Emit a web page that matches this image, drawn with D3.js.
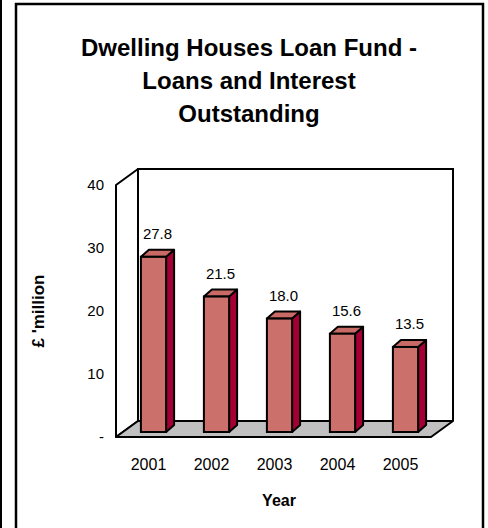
<!DOCTYPE html>
<html><head><meta charset="utf-8">
<script src="https://cdn.jsdelivr.net/npm/d3@7"></script>
<style>body{margin:0;background:#fff}svg{display:block}</style>
</head><body>
<svg id="c" width="488" height="528"></svg>
<script>
const years = ["2001","2002","2003","2004","2005"];
const values = [27.8, 21.5, 18.0, 15.6, 13.5];
const yTicks = [0, 10, 20, 30, 40];
const titleLines = ["Dwelling Houses Loan Fund -", "Loans and Interest", "Outstanding"];

const svg = d3.select("#c");
const font = "'Liberation Sans', Arial, sans-serif";

// outer frame lines
svg.append("line").attr("x1",1).attr("x2",1).attr("y1",0).attr("y2",528).attr("stroke","#000").attr("stroke-width",2);
svg.append("path").attr("d","M16,530 V4 H483 V530").attr("fill","none").attr("stroke","#000").attr("stroke-width",2.5);

// title
svg.append("g").selectAll("text").data(titleLines).join("text")
  .attr("x",249).attr("y",(d,i)=>56+i*33).attr("text-anchor","middle")
  .attr("font-family",font).attr("font-weight","bold").attr("font-size",24).text(d=>d);

const x = d3.scaleBand().domain(years).range([116,431]).paddingInner(0.6).paddingOuter(0.3);
const y = d3.scaleLinear().domain([0,40]).range([437,185]);
const DX = 22, DY = -16;         // full depth
const BX = 6, BY = -5;           // bar front offset
const BDX = 8, BDY = -7;         // bar depth

const x0 = x.range()[0], x1 = x.range()[1];
const yTop = y(40), yBot = y(0);

// back wall
svg.append("path").attr("d",`M${x0+DX},${yBot+DY} V${yTop+DY} H${x1+DX} V${yBot+DY}`)
  .attr("fill","#fff").attr("stroke","#000").attr("stroke-width",2);
// left wall
svg.append("path").attr("d",`M${x0},${yBot} L${x0},${yTop} L${x0+DX},${yTop+DY} L${x0+DX},${yBot+DY} Z`)
  .attr("fill","#fff").attr("stroke","#000").attr("stroke-width",2).attr("stroke-linejoin","round");
// floor
svg.append("path").attr("d",`M${x0},${yBot} L${x1},${yBot} L${x1+DX},${yBot+DY} L${x0+DX},${yBot+DY} Z`)
  .attr("fill","#c0c0c0").attr("stroke","#000").attr("stroke-width",2).attr("stroke-linejoin","round");

// y tick labels
svg.append("g").selectAll("text").data(yTicks).join("text")
  .attr("x",104).attr("y",d=>y(d)+5).attr("text-anchor","end")
  .attr("font-family",font).attr("font-size",15)
  .text(d=>d===0?"-":d);

// bars
const bw = x.bandwidth();
const bars = svg.append("g").selectAll("g").data(years.map((yr,i)=>({yr,v:values[i]}))).join("g");
bars.each(function(d){
  const g = d3.select(this);
  const fx = x(d.yr)+BX, fy = y(d.v)+BY, fb = yBot+BY;
  g.append("path").attr("d",`M${fx+bw},${fb} L${fx+bw},${fy} L${fx+bw+BDX},${fy+BDY} L${fx+bw+BDX},${fb+BDY} Z`)
    .attr("fill","#a50034").attr("stroke","#000").attr("stroke-width",2).attr("stroke-linejoin","round");
  g.append("path").attr("d",`M${fx},${fy} L${fx+BDX},${fy+BDY} L${fx+bw+BDX},${fy+BDY} L${fx+bw},${fy} Z`)
    .attr("fill","#c96a66").attr("stroke","#000").attr("stroke-width",2).attr("stroke-linejoin","round");
  g.append("rect").attr("x",fx).attr("y",fy).attr("width",bw).attr("height",fb-fy)
    .attr("fill","#cc706b").attr("stroke","#000").attr("stroke-width",2);
  g.append("text").attr("x",fx+bw/2+4).attr("y",fy-18).attr("text-anchor","middle")
    .attr("font-family",font).attr("font-size",15).text(d.v.toFixed(1));
});

// x labels
svg.append("g").selectAll("text").data(years).join("text")
  .attr("x",d=>x(d)+bw/2+1).attr("y",470).attr("text-anchor","middle")
  .attr("font-family",font).attr("font-size",16).text(d=>d);

// axis titles
svg.append("text").attr("x",279).attr("y",506).attr("text-anchor","middle")
  .attr("font-family",font).attr("font-weight","bold").attr("font-size",16).text("Year");
svg.append("text").attr("transform","translate(44,311) rotate(-90)").attr("text-anchor","middle")
  .attr("font-family",font).attr("font-weight","bold").attr("font-size",17).text("£ 'million");
</script>
</body></html>
